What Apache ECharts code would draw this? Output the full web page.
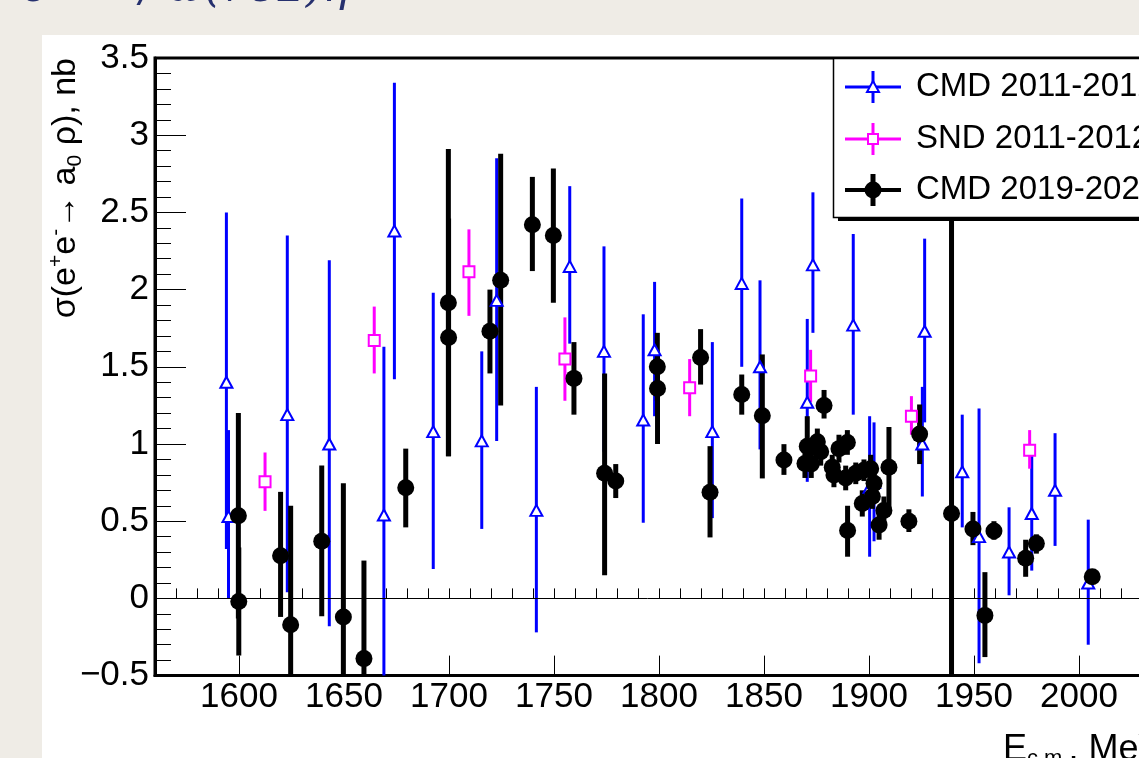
<!DOCTYPE html>
<html>
<head>
<meta charset="utf-8">
<script src="https://cdn.jsdelivr.net/npm/echarts@6/dist/echarts.min.js"></script>
<style>
html,body{margin:0;padding:0;background:#efece6;}
#chart{width:1139px;height:758px;}
</style>
</head>
<body>
<div id="chart"></div>
<script>
// ---------------- DATA ----------------
// CMD 2011-2012 (blue open triangles): energy, value, lower end, upper end of error bar
const cmd11E   = [1594, 1595, 1623, 1643, 1669, 1674, 1692.5, 1715.6, 1722.7, 1741.6, 1757.5, 1773.8, 1792.5, 1797.9, 1825.4, 1839.4, 1848.1, 1870.6, 1873.3, 1892.5, 1900.3, 1902.4, 1925.4, 1926.5, 1944.4, 1952.4, 1966.7, 1977.5, 1988.6, 2004.4];
const cmd11Val = [1.40, 0.53, 1.19, 1.00, 0.54, 2.38, 1.08, 1.02, 1.93, 0.57, 2.15, 1.60, 1.155, 1.61, 1.08, 2.04, 1.50, 1.27, 2.16, 1.77, 0.72, 0.75, 1.00, 1.73, 0.82, 0.40, 0.30, 0.55, 0.70, 0.10];
const cmd11Lo  = [0.32, 0.00, 0.04, -0.18, -0.60, 1.42, 0.19, 0.45, 1.02, -0.22, 1.65, 0.95, 0.49, 1.18, 0.52, 1.50, 0.965, 0.755, 1.72, 1.19, 0.27, 0.37, 0.66, 1.14, 0.46, -0.42, 0.02, 0.18, 0.34, -0.30];
const cmd11Hi  = [2.50, 1.09, 2.35, 2.19, 1.63, 3.34, 1.98, 1.60, 2.85, 1.37, 2.67, 2.28, 1.84, 2.05, 1.66, 2.59, 2.06, 1.81, 2.63, 2.36, 1.18, 1.14, 1.37, 2.33, 1.19, 1.23, 0.59, 0.93, 1.07, 0.51];

// SND 2011-2012 (magenta open squares)
const sndE   = [1612.4, 1664.4, 1709.5, 1755.2, 1814.6, 1872.2, 1920.2, 1976.5];
const sndVal = [0.755, 1.67, 2.115, 1.55, 1.364, 1.44, 1.18, 0.96];
const sndLo  = [0.567, 1.457, 1.83, 1.28, 1.18, 1.27, 1.06, 0.84];
const sndHi  = [0.945, 1.89, 2.39, 1.82, 1.55, 1.61, 1.31, 1.09];

// CMD 2019-2020 (black full circles)
const cmd19E   = [1599.7, 1599.9, 1619.8, 1624.6, 1639.4, 1649.7, 1659.5, 1679.4, 1699.7, 1699.8, 1719.5, 1724.6, 1739.7, 1749.7, 1759.5, 1774.1, 1779.4, 1799.2, 1799.3, 1819.8, 1824.3, 1839.4, 1849.2, 1859.5,
                  1869.5, 1870.6, 1872.5, 1875.4, 1877.0, 1878.6, 1882.5, 1883.3, 1885.7, 1888.9, 1889.7, 1889.8, 1893.7, 1897.6, 1900.8, 1896.8, 1901.6, 1902.4, 1904.8, 1907.1, 1909.5, 1919.0, 1924.1,
                  1939.3, 1949.5, 1955.2, 1959.5, 1974.6, 1979.7, 2006.3];
const cmd19Val = [0.535, -0.02, 0.276, -0.17, 0.37, -0.12, -0.39, 0.716, 1.915, 1.69, 1.73, 2.06, 2.42, 2.35, 1.425, 0.81, 0.76, 1.50, 1.36, 1.56, 0.687, 1.32, 1.183, 0.896,
                  0.873, 0.986, 0.87, 1.014, 0.95, 1.25, 0.85, 0.80, 0.97, 0.78, 1.01, 0.44, 0.81, 0.83, 0.84, 0.615, 0.66, 0.745, 0.475, 0.57, 0.85, 0.50, 1.064,
                  0.55, 0.449, -0.11, 0.436, 0.26, 0.356, 0.14];
const cmd19Lo  = [-0.13, -0.37, -0.12, -0.95, -0.115, -0.98, -1.0, 0.46, 0.92, 0.92, 1.457, 1.25, 2.12, 1.915, 1.19, 0.15, 0.65, 1.28, 1.0, 1.385, 0.395, 1.19, 0.777, 0.80,
                  0.78, 0.88, 0.78, 0.93, 0.86, 1.165, 0.77, 0.72, 0.88, 0.70, 0.93, 0.27, 0.74, 0.76, 0.75, 0.53, 0.58, 0.66, 0.38, 0.48, 0.57, 0.43, 0.87,
                  -4.0, 0.345, -0.38, 0.38, 0.14, 0.29, 0.10];
const cmd19Hi  = [1.20, 0.33, 0.69, 0.60, 0.86, 0.745, 0.245, 0.97, 2.91, 2.46, 2.0, 2.88, 2.73, 2.785, 1.66, 1.457, 0.87, 1.72, 1.58, 1.744, 0.986, 1.45, 1.58, 0.999,
                  0.97, 1.18, 0.96, 1.10, 1.04, 1.35, 0.93, 0.88, 1.06, 0.86, 1.09, 0.60, 0.88, 0.90, 0.93, 0.70, 0.74, 0.83, 0.57, 0.66, 1.11, 0.577, 1.256,
                  5.0, 0.56, 0.17, 0.50, 0.38, 0.415, 0.18];

// Axis ticks / labels
const xMajorTicks = [1600, 1650, 1700, 1750, 1800, 1850, 1900, 1950, 2000];
const xMinorStep = 10;
const xRange = [1560, 2040];
const yRange = [-0.5, 3.5];
const yStep = 0.5;
const legendLabels = ['CMD 2011-2012', 'SND 2011-2012', 'CMD 2019-2020'];
const yTitle = '{m|σ(e}{sup|+}{m|e}{sup|-}{m|→ a}{sub|0}{m| ρ), nb}';

// ---------------- CHART ----------------
const xMinorTicks = [];
for (let v = xRange[0]; v <= xRange[1]; v += xMinorStep) xMinorTicks.push(v);

const FONT = '"Liberation Sans", Arial, Helvetica, sans-serif';
const chart = echarts.init(document.getElementById('chart'), null, {renderer: 'canvas'});

function errorBars(E, lo, hi, color, width) {
  return {
    type: 'custom',
    xAxisIndex: 0, yAxisIndex: 0,
    data: E.map((e, i) => [e, lo[i], hi[i]]),
    encode: {x: 0, y: [1, 2]},
    silent: true,
    renderItem: function (params, api) {
      const x = api.value(0);
      const a = Math.max(api.value(1), yRange[0]);
      const b = Math.min(api.value(2), yRange[1]);
      const p1 = api.coord([x, a]);
      const p2 = api.coord([x, b]);
      return {type: 'line', shape: {x1: p1[0], y1: p1[1], x2: p2[0], y2: p2[1]},
              style: {stroke: color, lineWidth: width}};
    }
  };
}
function markers(E, V, symbol, size, fill, border, bw) {
  return {
    type: 'scatter',
    xAxisIndex: 0, yAxisIndex: 0,
    data: E.map((e, i) => [e, V[i]]),
    symbol: symbol, symbolSize: size,
    itemStyle: {color: fill, borderColor: border, borderWidth: bw, opacity: 1},
    silent: true
  };
}

// legend graphics
const legendRows = [
  {y: 87, color: '#0000ff', lw: 3, vw: 3, symbol: 'tri'},
  {y: 139, color: '#ff00ff', lw: 3, vw: 3, symbol: 'sq'},
  {y: 190, color: '#000000', lw: 4, vw: 5, symbol: 'circ'}
];
const legendGraphics = [
  {type: 'rect', shape: {x: 838, y: 217, width: 400, height: 4}, style: {fill: '#000'}, z: 100},
  {type: 'rect', shape: {x: 833.5, y: 58.5, width: 400, height: 159}, style: {fill: '#fff', stroke: '#000', lineWidth: 1.5}, z: 101}
];
legendRows.forEach((r, i) => {
  legendGraphics.push({type: 'line', shape: {x1: 845, y1: r.y, x2: 901, y2: r.y}, style: {stroke: r.color, lineWidth: r.lw}, z: 102});
  legendGraphics.push({type: 'line', shape: {x1: 873, y1: r.y - 16, x2: 873, y2: r.y + 16}, style: {stroke: r.color, lineWidth: r.vw}, z: 102});
  if (r.symbol === 'tri') {
    legendGraphics.push({type: 'polygon', shape: {points: [[873, r.y - 6], [879, r.y + 5], [867, r.y + 5]]}, style: {fill: '#fff', stroke: r.color, lineWidth: 2}, z: 103});
  } else if (r.symbol === 'sq') {
    legendGraphics.push({type: 'rect', shape: {x: 868, y: r.y - 5, width: 10, height: 10}, style: {fill: '#fff', stroke: r.color, lineWidth: 2}, z: 103});
  } else {
    legendGraphics.push({type: 'circle', shape: {cx: 873, cy: r.y, r: 8.5}, style: {fill: '#000'}, z: 103});
  }
  legendGraphics.push({type: 'text', x: 916, y: r.y, style: {text: legendLabels[i], font: '33px ' + FONT, fill: '#000', textVerticalAlign: 'middle', textAlign: 'left'}, z: 103});
});

const TITLE_FONT = 'italic 44px "DejaVu Serif", serif';
const option = {
  animation: false,
  backgroundColor: '#efece6',
  grid: {left: 155, top: 58, width: (xRange[1] - xRange[0]) * 2.1, height: 617.6,
         show: true, borderColor: '#000', borderWidth: 3, backgroundColor: 'transparent',
         containLabel: false, outerBoundsMode: 'none'},
  xAxis: [
    {type: 'value', min: xRange[0], max: xRange[1], position: 'bottom',
     axisLine: {show: true, onZero: false, lineStyle: {color: '#000', width: 3}},
     axisTick: {show: true, inside: true, length: 20, customValues: xMajorTicks, lineStyle: {color: '#000', width: 1}},
     axisLabel: {show: true, customValues: xMajorTicks, fontSize: 35, fontFamily: FONT, color: '#000', margin: 4,
                 formatter: v => String(v)},
     splitLine: {show: false}},
    {type: 'value', min: xRange[0], max: xRange[1], position: 'bottom',
     axisLine: {show: false},
     axisTick: {show: true, inside: true, length: 10, customValues: xMinorTicks, lineStyle: {color: '#000', width: 1}},
     axisLabel: {show: false},
     splitLine: {show: false}}
  ],
  yAxis: {type: 'value', min: yRange[0], max: yRange[1], interval: yStep,
     axisLine: {show: true, onZero: false, lineStyle: {color: '#000', width: 3}},
     axisTick: {show: true, inside: true, length: 31, lineStyle: {color: '#000', width: 1}},
     minorTick: {show: true, splitNumber: 5, length: 16, lineStyle: {color: '#000', width: 1}},
     axisLabel: {fontSize: 35, fontFamily: FONT, color: '#000', margin: 6,
                 formatter: v => String(v).replace('-', '\u2212')},
     splitLine: {show: false}},
  graphic: [
    {type: 'rect', shape: {x: 42, y: 35, width: 1200, height: 800}, style: {fill: '#ffffff'}, z: -100},
    {type: 'text', x: 22, y: 12, style: {text: 'σ', font: TITLE_FONT, fill: '#26306e', textVerticalAlign: 'bottom'}, z: 5},
    {type: 'text', x: 140, y: 12, style: {text: '/ ω(782)η', font: TITLE_FONT, fill: '#26306e', textVerticalAlign: 'bottom'}, z: 5},
    {type: 'text', x: 66, y: 58, rotation: Math.PI / 2,
     style: {text: yTitle, textAlign: 'right', textVerticalAlign: 'middle',
             rich: {m: {fontSize: 34, fontFamily: FONT, fill: '#000', lineHeight: 40},
                    sup: {fontSize: 21, fontFamily: FONT, fill: '#000', verticalAlign: 'top', lineHeight: 40},
                    sub: {fontSize: 21, fontFamily: FONT, fill: '#000', verticalAlign: 'bottom', lineHeight: 40}}}, z: 5},
    {type: 'text', x: 1003, y: 730,
     style: {text: '{m|E}{sub|c.m.}{m|, MeV}', textVerticalAlign: 'top',
             rich: {m: {fontSize: 36, fontFamily: FONT, fill: '#000', lineHeight: 40},
                    sub: {fontSize: 22, fontFamily: FONT, fill: '#000', verticalAlign: 'bottom', lineHeight: 40}}}, z: 5}
  ].concat(legendGraphics),
  series: [
    errorBars(cmd11E, cmd11Lo, cmd11Hi, '#0000ff', 3),
    Object.assign(markers(cmd11E, cmd11Val, 'triangle', [12, 11], '#ffffff', '#0000ff', 2), {
      markLine: {silent: true, symbol: 'none', label: {show: false},
                 lineStyle: {color: '#000', width: 1, type: 'solid'}, data: [{yAxis: 0}]}
    }),
    errorBars(sndE, sndLo, sndHi, '#ff00ff', 3),
    markers(sndE, sndVal, 'rect', 11, '#ffffff', '#ff00ff', 2),
    errorBars(cmd19E, cmd19Lo, cmd19Hi, '#000000', 5),
    markers(cmd19E, cmd19Val, 'circle', 17, '#000000', '#000000', 0)
  ]
};
chart.setOption(option);
</script>
</body>
</html>
